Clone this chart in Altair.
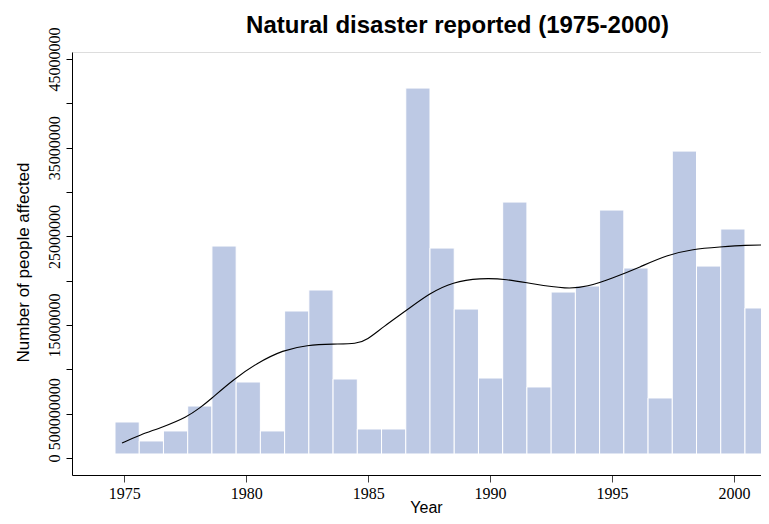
import altair as alt
import pandas as pd

# ---- data ----
YEARS = list(range(1975, 2002))
AFFECTED = [4.06e6, 1.92e6, 3.05e6, 5.86e6, 23.91e6, 8.57e6, 3.05e6, 16.58e6, 18.95e6,
            8.91e6, 3.27e6, 3.27e6, 41.73e6, 23.68e6, 16.80e6, 9.02e6, 28.87e6, 8.01e6,
            18.72e6, 19.40e6, 27.97e6, 21.43e6, 6.77e6, 34.62e6, 21.65e6, 25.83e6, 16.92e6]
BAR_BASE = 450000

CURVE_YEAR = [1974.91, 1975.64, 1976.59, 1977.57, 1978.10, 1978.51, 1979.45, 1980.44,
              1981.51, 1982.49, 1983.56, 1984.54, 1984.95, 1985.61, 1986.59, 1987.53,
              1988.47, 1989.58, 1990.69, 1991.76, 1993.15, 1993.97, 1995.03, 1996.14,
              1997.25, 1998.31, 1999.42, 2000.52, 2001.22]
CURVE_VALUE = [1.69e6, 2.59e6, 3.50e6, 4.62e6, 5.64e6, 6.54e6, 8.80e6, 10.71e6,
               12.18e6, 12.74e6, 12.86e6, 12.86e6, 13.31e6, 14.77e6, 16.69e6, 18.61e6,
               19.85e6, 20.30e6, 20.19e6, 19.62e6, 19.06e6, 19.29e6, 20.30e6, 21.54e6,
               22.89e6, 23.57e6, 23.80e6, 24.02e6, 24.02e6]

Y_TICKS = [0, 5000000, 10000000, 15000000, 20000000, 25000000, 30000000, 35000000, 40000000, 45000000]
Y_LABELS = ["0", "500000000", "", "15000000", "", "25000000", "", "35000000", "", "45000000"]
X_TICKS = [1975, 1980, 1985, 1990, 1995, 2000]

TITLE = "Natural disaster reported (1975-2000)"
X_TITLE = "Year"
Y_TITLE = "Number of people affected"

bar_df = pd.DataFrame({"year": YEARS, "affected": AFFECTED})
curve_df = pd.DataFrame({"year": CURVE_YEAR, "value": CURVE_VALUE})

label_expr = " : ".join(
    f"datum.value == {v} ? '{l}'" for v, l in zip(Y_TICKS, Y_LABELS)
) + " : ''"

SERIF = "Liberation Serif"
SANS = "Liberation Sans"

yscale = alt.Scale(domain=[-1920000, 45800000], nice=False, zero=False)
yaxis = alt.Axis(
    values=Y_TICKS, labelExpr=label_expr, labelAngle=270, labelAlign="center",
    labelBaseline="alphabetic", labelPadding=7, labelFont=SERIF, labelFontSize=16,
    labelColor="black", tickSize=6, tickColor="black", domainColor="black",
    grid=False, labelOverlap=False, labelFlush=False,
    title=Y_TITLE, titleFont=SANS, titleFontSize=17, titleFontWeight="normal",
    titleColor="black", titleAngle=270, titleAlign="center", titleBaseline="alphabetic",
    titleX=-44, titleY=210,
)
xaxis = alt.Axis(
    values=X_TICKS, format="d", labelFont=SERIF, labelFontSize=16, labelColor="black",
    labelPadding=3, tickSize=7, tickColor="#444", domainColor="black", grid=False,
    labelFlush=False, labelOverlap=False,
    title=X_TITLE, titleFont=SANS, titleFontSize=16, titleFontWeight="normal",
    titleColor="black", titleAlign="center", titleBaseline="alphabetic",
    titleX=354, titleY=37,
)

bars = alt.Chart(bar_df).transform_calculate(end="datum.year + 1").mark_rect(
    color="#bdc9e4", stroke="white", strokeWidth=1, clip=True
).encode(
    x=alt.X("year:Q", scale=alt.Scale(domain=[1973.225, 2001.661], nice=False, zero=False), axis=None),
    x2="end:Q",
    y=alt.Y("affected:Q", scale=yscale, axis=yaxis),
    y2=alt.datum(BAR_BASE),
)

line = alt.Chart(curve_df).mark_line(
    color="black", strokeWidth=1.1, interpolate="basis", clip=True
).encode(
    x=alt.X("year:Q", scale=alt.Scale(domain=[1972.86, 2001.105], nice=False, zero=False), axis=xaxis),
    y=alt.Y("value:Q", scale=yscale, axis=yaxis),
)

chart = alt.layer(bars, line).resolve_scale(x="independent").properties(
    width=689, height=423,
    padding={"left": 64, "top": 44, "right": 0, "bottom": 41},
    autosize=alt.AutoSizeParams(type="none"),
    title=alt.TitleParams(TITLE, font=SANS, fontSize=24, fontWeight="bold", color="black",
                          anchor="middle", dx=41, dy=15, offset=4),
).configure_view(stroke=None).configure(background="white")

chart.save("out.html", embed_options={"renderer": "svg", "actions": False})
